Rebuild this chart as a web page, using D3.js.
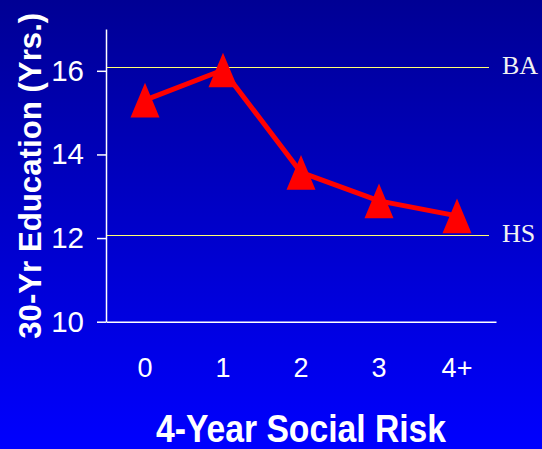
<!DOCTYPE html>
<html>
<head>
<meta charset="utf-8">
<script src="https://cdn.jsdelivr.net/npm/d3@7"></script>
<style>
  html, body { margin: 0; padding: 0; background: #0000ff; }
  svg { display: block; }
</style>
</head>
<body>
<svg id="chart" width="542" height="449"></svg>
<script>
// Years of education at 30 by early social risk level
const categories = ["0", "1", "2", "3", "4+"];
const education = [15.30, 16.02, 13.57, 12.89, 12.53];
const yTicks = [10, 12, 14, 16];
const refLabels = ["BA", "HS"];
const refValues = [16.07, 12.07];

const svg = d3.select("#chart");
const W = 542, H = 449;

// background: dark navy at top fading to bright blue
const defs = svg.append("defs");
const grad = defs.append("linearGradient")
  .attr("id", "bg").attr("x1", 0).attr("y1", 0).attr("x2", 0).attr("y2", 1);
grad.append("stop").attr("offset", "0%").attr("stop-color", "#000094");
grad.append("stop").attr("offset", "100%").attr("stop-color", "#0000ff");
svg.append("rect").attr("width", W).attr("height", H).attr("fill", "url(#bg)");

const x = d3.scaleBand().domain(categories).range([106, 496]);
const y = d3.scaleLinear().domain([10, 17]).range([321.7, 29]);

// reference lines for degree levels (snapped to the pixel grid)
const refs = svg.append("g");
refValues.forEach((v, i) => {
  const ly = Math.floor(y(v)) + 0.5;
  refs.append("line")
    .attr("x1", 106).attr("x2", 489)
    .attr("y1", ly).attr("y2", ly)
    .attr("stroke", "#ffff70").attr("stroke-width", 1);
  refs.append("text")
    .attr("x", 502).attr("y", ly + 6.7)
    .attr("font-family", "'Liberation Serif', 'Times New Roman', serif")
    .attr("font-size", 26)
    .attr("fill", "#f2f2f2")
    .text(refLabels[i]);
});

// y axis
const yAxis = svg.append("g")
  .attr("transform", "translate(106,0)")
  .call(d3.axisLeft(y).tickValues(yTicks).tickSize(9).tickPadding(13).tickSizeOuter(0).tickFormat(d3.format("d")));
yAxis.select(".domain").attr("stroke", "#ffffff").attr("stroke-width", 1.5);
yAxis.selectAll(".tick line").attr("stroke", "#ffffff").attr("stroke-width", 1.5);
yAxis.selectAll(".tick text")
  .attr("fill", "#ffffff")
  .attr("font-family", "'Liberation Sans', Arial, sans-serif")
  .attr("font-size", 29.5);

// x axis
const xAxis = svg.append("g")
  .attr("transform", `translate(0,${y(10)})`)
  .call(d3.axisBottom(x).tickSize(0).tickPadding(36.6).tickSizeOuter(0));
xAxis.select(".domain").attr("stroke", "#ffffff").attr("stroke-width", 1.5);
xAxis.selectAll(".tick text")
  .attr("fill", "#ffffff")
  .attr("font-family", "'Liberation Sans', Arial, sans-serif")
  .attr("font-size", 27);

// axis titles
svg.append("text")
  .attr("x", 301).attr("y", 441.7)
  .attr("text-anchor", "middle")
  .attr("font-family", "'Liberation Sans', Arial, sans-serif")
  .attr("font-weight", "bold")
  .attr("font-size", 38)
  .attr("fill", "#ffffff")
  .attr("textLength", 290)
  .attr("lengthAdjust", "spacingAndGlyphs")
  .text("4-Year Social Risk");

svg.append("text")
  .attr("transform", "translate(40.7,175.8) rotate(-90)")
  .attr("text-anchor", "middle")
  .attr("font-family", "'Liberation Sans', Arial, sans-serif")
  .attr("font-weight", "bold")
  .attr("font-size", 32)
  .attr("fill", "#ffffff")
  .attr("textLength", 326)
  .attr("lengthAdjust", "spacingAndGlyphs")
  .text("30-Yr Education (Yrs.)");

// series line
const cx = c => x(c) + x.bandwidth() / 2;
const pts = categories.map((c, i) => [cx(c), y(education[i])]);
svg.append("path")
  .attr("d", d3.line()(pts))
  .attr("fill", "none")
  .attr("stroke", "#ff0000")
  .attr("stroke-width", 5)
  .attr("stroke-linejoin", "round");

// triangle markers
const tw = 29, th = 34.6;
svg.append("g").selectAll("path")
  .data(pts)
  .join("path")
  .attr("d", d => `M${d[0]},${d[1] - th / 2}L${d[0] + tw / 2},${d[1] + th / 2}L${d[0] - tw / 2},${d[1] + th / 2}Z`)
  .attr("fill", "#ff0000");
</script>
</body>
</html>
